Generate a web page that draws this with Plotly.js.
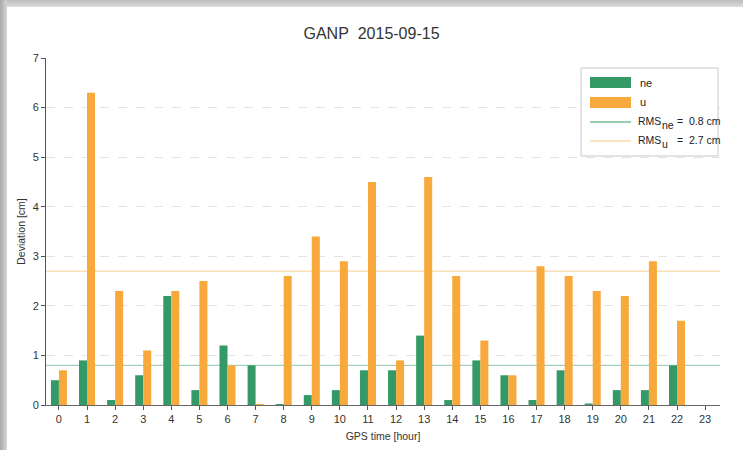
<!DOCTYPE html>
<html>
<head>
<meta charset="utf-8">
<script src="https://cdn.plot.ly/plotly-3.0.1.min.js"></script>
<style>
  html, body { margin: 0; padding: 0; background: #fff; }
  #chart { position: absolute; left: 0; top: 0; width: 743px; height: 450px; }
  #bandLeft { position: absolute; left: 0; top: 0; width: 7px; height: 450px;
    background: linear-gradient(to right, #a8a8a8, #d6d6d6); pointer-events: none; }
  #bandTop { position: absolute; left: 0; top: 0; width: 743px; height: 7px;
    background: linear-gradient(to bottom, #bdbdbd, #dcdcdc); pointer-events: none; }
</style>
</head>
<body>
<div id="chart"></div>
<div id="bandTop"></div>
<div id="bandLeft"></div>
<script>
// ---- data ----
const hours = [0,1,2,3,4,5,6,7,8,9,10,11,12,13,14,15,16,17,18,19,20,21,22,23];
const tickLabels = hours.map(String);
const neValues = [0.5,0.9,0.1,0.6,2.2,0.3,1.2,0.8,0.02,0.2,0.3,0.7,0.7,1.4,0.1,0.9,0.6,0.1,0.7,0.03,0.3,0.3,0.8,null];
const uValues  = [0.7,6.3,2.3,1.1,2.3,2.5,0.8,0.02,2.6,3.4,2.9,4.5,0.9,4.6,2.6,1.3,0.6,2.8,2.6,2.3,2.2,2.9,1.7,null];
const rmsNe = 0.8;
const rmsU = 2.7;
const seriesNames = ["ne", "u"];
const titleText = "GANP&nbsp;&nbsp;2015-09-15";
const xTitle = "GPS time [hour]";
const yTitle = "Deviation [cm]";
const rmsValues = [rmsNe, rmsU];

// ---- styles ----
const green = "#339966";
const orange = "#f7a93b";
const font = "Liberation Sans, Arial, sans-serif";

const traces = [
  { type: "bar", x: hours, y: neValues, name: seriesNames[0], marker: { color: green }, showlegend: false },
  { type: "bar", x: hours, y: uValues, name: seriesNames[1], marker: { color: orange }, showlegend: false }
];

// legend geometry in pixels (page coords) -> paper coords
const plotL = 46, plotR = 720, plotT = 58, plotB = 405;
const px = v => (v - plotL) / (plotR - plotL);
const py = v => (plotB - v) / (plotB - plotT);

const shapes = [
  { type: "line", xref: "paper", yref: "y", x0: 0, x1: 1, y0: rmsNe, y1: rmsNe, layer: "below",
    line: { color: "rgba(51,153,102,0.55)", width: 1 } },
  { type: "line", xref: "paper", yref: "y", x0: 0, x1: 1, y0: rmsU, y1: rmsU, layer: "below",
    line: { color: "rgba(247,169,59,0.55)", width: 1 } },
  // legend box
  { type: "rect", xref: "paper", yref: "paper", x0: px(581), x1: px(718), y0: py(156), y1: py(68),
    line: { color: "#c8c8c8", width: 1 }, fillcolor: "#ffffff" },
  { type: "rect", xref: "paper", yref: "paper", x0: px(590), x1: px(631), y0: py(88), y1: py(77),
    line: { width: 0 }, fillcolor: green },
  { type: "rect", xref: "paper", yref: "paper", x0: px(590), x1: px(631), y0: py(108), y1: py(97),
    line: { width: 0 }, fillcolor: orange },
  { type: "line", xref: "paper", yref: "paper", x0: px(590), x1: px(631), y0: py(122), y1: py(122),
    line: { color: green, width: 1 } },
  { type: "line", xref: "paper", yref: "paper", x0: px(590), x1: px(631), y0: py(141), y1: py(141),
    line: { color: "#f9c97f", width: 1 } }
];

function ann(text, x, y, size) {
  return { xref: "paper", yref: "paper", x: px(x), y: py(y), xanchor: "left", yanchor: "middle",
    showarrow: false, text: text, font: { family: font, size: size, color: "#222" } };
}
const annotations = [
  ann(seriesNames[0], 638, 83, 11),
  ann(seriesNames[1], 638, 102, 11),
  ann("RMS", 636, 121, 10.5),
  ann(seriesNames[0], 660, 125, 10.5),
  ann("=&nbsp;&nbsp;" + rmsValues[0].toFixed(1) + " cm", 675, 121, 10.5),
  ann("RMS", 636, 140, 10.5),
  ann(seriesNames[1], 660, 144, 10.5),
  ann("=&nbsp;&nbsp;" + rmsValues[1].toFixed(1) + " cm", 675, 140, 10.5)
];

const layout = {
  width: 743, height: 450,
  margin: { l: plotL, r: 743 - plotR, t: plotT, b: 450 - plotB, pad: 0 },
  paper_bgcolor: "#ffffff", plot_bgcolor: "#ffffff",
  font: { family: font, size: 11, color: "#333" },
  title: { text: titleText, x: 0.5, xref: "container", xanchor: "center",
    y: 1 - 33 / 450, yref: "container", yanchor: "middle",
    font: { family: font, size: 16, color: "#333" } },
  barmode: "group", bargap: 0.43, bargroupgap: 0,
  xaxis: {
    range: [-0.46, 23.53], tickmode: "array", tickvals: hours, ticktext: tickLabels,
    showline: true, linecolor: "#666", linewidth: 1, ticks: "outside", ticklen: 4, tickcolor: "#555",
    showgrid: false, zeroline: false, tickfont: { size: 11, color: "#333" },
    title: { text: xTitle, standoff: 8, font: { size: 10.5, color: "#333" } }
  },
  yaxis: {
    range: [0, 7], dtick: 1, tick0: 0,
    showline: true, linecolor: "#555", linewidth: 1, ticks: "outside", ticklen: 4, tickcolor: "#555",
    showgrid: true, gridcolor: "#e3e3e3", griddash: "dash", gridwidth: 1, zeroline: false,
    tickfont: { size: 11, color: "#333" },
    title: { text: yTitle, standoff: 4, font: { size: 10.5, color: "#333" } }
  },
  shapes: shapes,
  annotations: annotations,
  showlegend: false
};

Plotly.newPlot("chart", traces, layout, { displayModeBar: false, staticPlot: true });
</script>
</body>
</html>
